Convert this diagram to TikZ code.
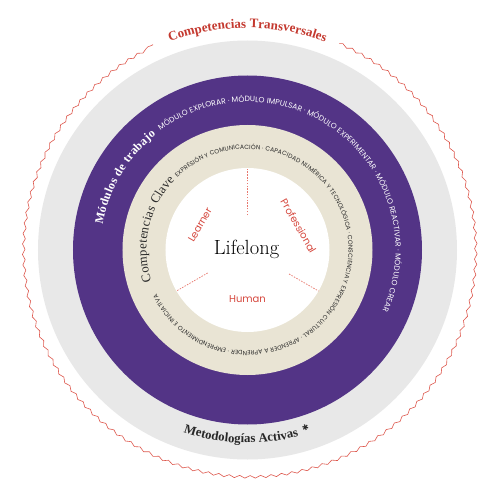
\documentclass[tikz,border=0pt]{standalone}
\usepackage{fontspec}
\newfontfamily\popp{Poppins}
\newfontfamily\libser{Liberation Serif}
\newfontfamily\djv{DejaVu Sans}
\usetikzlibrary{decorations.text,decorations.pathmorphing}
\definecolor{purp}{RGB}{83,52,134}
\definecolor{ringgray}{RGB}{232,232,232}
\definecolor{beige}{RGB}{233,228,212}
\definecolor{titlered}{RGB}{196,56,46}
\definecolor{labelred}{RGB}{214,72,62}
\definecolor{dividerred}{RGB}{232,120,110}
\definecolor{wavyred}{RGB}{222,88,78}
\definecolor{darktext}{RGB}{40,40,40}
\tikzset{
  lbl/.style={text=labelred, font=\popp\fontsize{10}{12}\selectfont, inner sep=0pt},
  divider/.style={draw=dividerred, line width=0.7pt, dash pattern=on 1.5pt off 1.3pt},
}
\begin{document}
\begin{tikzpicture}[x=1pt,y=1pt]
\useasboundingbox (-247.5,-248) rectangle (250.5,250);
\fill[white] (-247.5,-248) rectangle (250.5,250);
% rings
\fill[ringgray] (0,0) circle (209.5);
\fill[purp] (0,0) circle (174.5);
\fill[beige] (0,0) circle (125);
\fill[white] (0,0) circle (82);
% wavy outer circle
\draw[wavyred, line width=0.6pt, decorate, decoration={snake, segment length=10.5, amplitude=1.3}]
  (66:226) arc[start angle=66, end angle=-245.3, radius=226];
% top title
\path[decorate, decoration={text along path, text align={center}, text color=titlered,
  text={|\libser\bfseries\fontsize{13}{15}\selectfont|Competencias Transversales}}]
  (125:222) arc[start angle=125, end angle=55, radius=222];
% bottom title
\path[decorate, decoration={text along path, text align={center}, text color=darktext,
  text={|\libser\bfseries\fontsize{12.8}{14}\selectfont|Metodologías Activas}}]
  (-127:193) arc[start angle=-127, end angle=-57, radius=193];
\node[text=darktext, font=\djv\fontsize{8}{9}\selectfont, rotate=18, inner sep=0pt] (ast) at (-72:187) {✱};
% purple ring texts
\path[decorate, decoration={text along path, text align={fit to path}, text color=white,
  text={|\libser\bfseries\fontsize{12}{14}\selectfont|Módulos de trabajo}}]
  (170:147) arc[start angle=170, end angle=128.5, radius=147];
\path[decorate, decoration={text along path, text align={fit to path}, text color=white,
  text={|\popp\fontsize{7.6}{9}\selectfont|MÓDULO EXPLORAR · MÓDULO IMPULSAR · MÓDULO EXPERIMENTAR · MÓDULO REACTIVAR · MÓDULO CREAR}}]
  (126:148) arc[start angle=126, end angle=-24, radius=148];
% beige ring texts
\path[decorate, decoration={text along path, text align={fit to path}, text color=darktext,
  text={|\libser\fontsize{12.8}{14}\selectfont|Competencias Clave}}]
  (198:101) arc[start angle=198, end angle=136, radius=101];
\path[decorate, decoration={text along path, text align={fit to path}, text color=darktext,
  text={|\popp\fontsize{6.1}{7}\selectfont|EXPRESIÓN Y COMUNICACIÓN · CAPACIDAD NUMÉRICA Y TECNOLÓGICA · CONSCIENCIA Y EXPRESIÓN CULTURAL · APRENDER A APRENDER · EMPRENDIMIENTO E INICIATIVA}}]
  (134:101) arc[start angle=134, end angle=-154, radius=101];
% center
\node[text=black, font=\fontsize{20.5}{22}\selectfont, inner sep=0pt] (life) at (-1,1) {Lifelong};
\node[lbl, rotate=60] (learner) at (-47.5,25) {Learner};
\node[lbl, rotate=-60] (prof) at (51,24) {Professional};
\node[lbl] (human) at (0,-49) {Human};
% dividers
\coordinate (d1a) at (-0.3,35);  \coordinate (d1b) at (-0.3,82);
\coordinate (d2a) at (210:46); \coordinate (d2b) at (210:82);
\coordinate (d3a) at (-30:48); \coordinate (d3b) at (-30:82);
\draw[divider] (d1a) -- (d1b);
\draw[divider] (d2a) -- (d2b);
\draw[divider] (d3a) -- (d3b);
\end{tikzpicture}
\end{document}
